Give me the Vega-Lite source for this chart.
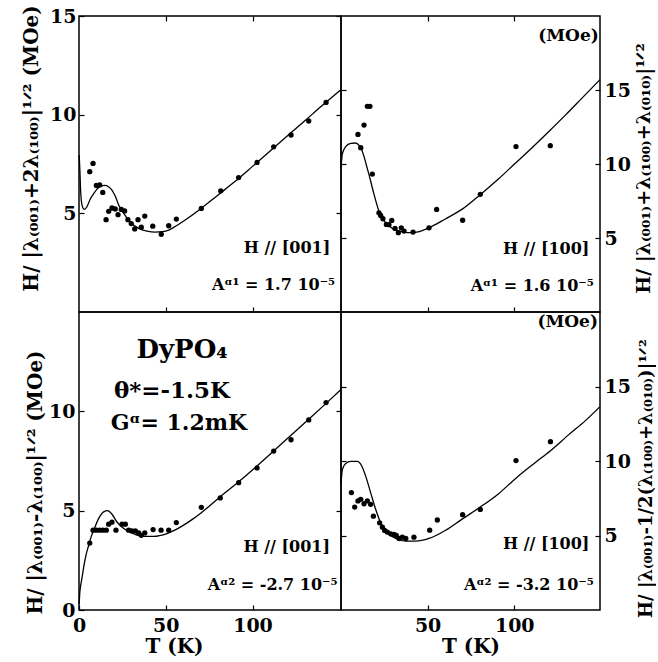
{
  "$schema": "https://vega.github.io/schema/vega-lite/v6.json",
  "background": "white",
  "padding": {"left": 20, "top": 3, "right": 0, "bottom": 0},
  "columns": 2,
  "spacing": 0,
  "bounds": "flush",
  "align": "each",
  "config": {
    "font": "DejaVu Serif",
    "view": {"stroke": "black", "strokeWidth": 1.5},
    "axis": {"grid": false, "domain": false, "tickSize": -5, "tickColor": "black", "tickWidth": 1.2, "labelFont": "DejaVu Serif", "labelFontWeight": "bold", "labelFontSize": 19, "labelColor": "black", "labelPadding": 8, "labelFlush": false, "labelOverlap": false, "titleFont": "DejaVu Serif", "titleFontWeight": "bold", "titleFontSize": 20, "titleColor": "black"},
    "axisBottom": {"labelPadding": 10},
    "axisRight": {"labelPadding": 9},
    "text": {"font": "DejaVu Serif", "fontWeight": "bold", "color": "black"},
    "line": {"color": "black", "strokeWidth": 1.3, "interpolate": "monotone"},
    "circle": {"color": "black", "opacity": 1, "size": 28}
  },
  "datasets": {
    "tl_curve": [{"T":0.1,"H":7.95},{"T":0.5,"H":7.2},{"T":0.9,"H":6.2},{"T":1.4,"H":5.6},{"T":2.2,"H":5.28},{"T":3.1,"H":5.2},{"T":4.5,"H":5.32},{"T":6.5,"H":5.73},{"T":8.5,"H":6.0},{"T":10.4,"H":6.23},{"T":12.5,"H":6.38},{"T":15.0,"H":6.42},{"T":17.0,"H":6.35},{"T":19.0,"H":6.18},{"T":21.0,"H":5.85},{"T":23.0,"H":5.4},{"T":25.8,"H":5.0},{"T":29.6,"H":4.55},{"T":34.4,"H":4.24},{"T":39.2,"H":4.1},{"T":44.0,"H":4.05},{"T":48.0,"H":4.07},{"T":51.7,"H":4.15},{"T":54.6,"H":4.29},{"T":61.0,"H":4.65},{"T":70.0,"H":5.22},{"T":80.0,"H":5.92},{"T":90.0,"H":6.62},{"T":100.0,"H":7.38},{"T":110.0,"H":8.15},{"T":120.0,"H":8.92},{"T":130.0,"H":9.68},{"T":140.0,"H":10.45},{"T":151.0,"H":11.27}],
    "tl_pts": [{"T":6.2,"H":7.11},{"T":8.1,"H":7.53},{"T":10.0,"H":6.41},{"T":11.9,"H":6.44},{"T":13.7,"H":6.06},{"T":15.6,"H":4.68},{"T":17.1,"H":5.1},{"T":19.0,"H":5.27},{"T":20.9,"H":5.22},{"T":22.5,"H":4.93},{"T":24.4,"H":5.2},{"T":26.3,"H":5.12},{"T":28.2,"H":4.68},{"T":30.1,"H":4.48},{"T":32.1,"H":4.21},{"T":34.0,"H":4.68},{"T":35.9,"H":4.3},{"T":37.9,"H":4.86},{"T":42.5,"H":4.35},{"T":47.4,"H":3.94},{"T":51.7,"H":4.37},{"T":56.1,"H":4.71},{"T":70.5,"H":5.25},{"T":81.7,"H":6.14},{"T":92.0,"H":6.81},{"T":102.6,"H":7.58},{"T":112.2,"H":8.37},{"T":122.2,"H":8.97},{"T":132.4,"H":9.68},{"T":142.4,"H":10.62}],
    "tr_curve": [{"T":0,"H":9.72},{"T":0.8,"H":10.7},{"T":2.7,"H":11.17},{"T":5.6,"H":11.4},{"T":8.5,"H":11.42},{"T":10.8,"H":11.2},{"T":12.0,"H":10.95},{"T":13.3,"H":10.5},{"T":14.7,"H":9.9},{"T":16.2,"H":9.27},{"T":19.1,"H":7.93},{"T":21.9,"H":6.81},{"T":25.8,"H":6.03},{"T":29.6,"H":5.65},{"T":35.4,"H":5.42},{"T":41.2,"H":5.36},{"T":46.9,"H":5.5},{"T":52.7,"H":5.8},{"T":60.0,"H":6.27},{"T":70.0,"H":6.95},{"T":80.4,"H":7.93},{"T":91.0,"H":9.0},{"T":100.6,"H":10.05},{"T":110.3,"H":11.1},{"T":120.0,"H":12.2},{"T":129.5,"H":13.3},{"T":139.1,"H":14.45},{"T":149.5,"H":15.7}],
    "tr_pts": [{"T":9.8,"H":12.0},{"T":11.4,"H":11.1},{"T":13.3,"H":12.63},{"T":15.2,"H":13.9},{"T":16.7,"H":13.9},{"T":18.1,"H":9.32},{"T":21.9,"H":6.7},{"T":22.9,"H":6.52},{"T":24.2,"H":6.3},{"T":26.2,"H":5.92},{"T":27.7,"H":5.9},{"T":29.3,"H":6.19},{"T":31.2,"H":5.65},{"T":33.1,"H":5.36},{"T":34.8,"H":5.69},{"T":36.4,"H":5.47},{"T":41.6,"H":5.4},{"T":50.8,"H":5.69},{"T":55.2,"H":6.93},{"T":70.2,"H":6.2},{"T":80.4,"H":7.95},{"T":101.0,"H":11.18},{"T":120.8,"H":11.24}],
    "bl_curve": [{"T":0.1,"H":0.3},{"T":0.4,"H":0.8},{"T":1.0,"H":1.25},{"T":1.7,"H":1.6},{"T":2.7,"H":2.16},{"T":4.0,"H":2.75},{"T":5.6,"H":3.26},{"T":7.0,"H":3.68},{"T":8.5,"H":4.02},{"T":11.3,"H":4.6},{"T":14.2,"H":4.94},{"T":16.5,"H":5.0},{"T":19.0,"H":4.82},{"T":21.9,"H":4.43},{"T":25.8,"H":4.1},{"T":30.5,"H":3.88},{"T":36.3,"H":3.71},{"T":43.0,"H":3.71},{"T":50.7,"H":3.85},{"T":55.5,"H":4.03},{"T":60.3,"H":4.27},{"T":65.1,"H":4.55},{"T":70.5,"H":4.9},{"T":74.7,"H":5.2},{"T":81.4,"H":5.7},{"T":92.0,"H":6.45},{"T":102.6,"H":7.25},{"T":112.2,"H":8.0},{"T":122.2,"H":8.8},{"T":132.4,"H":9.6},{"T":142.4,"H":10.4},{"T":151.0,"H":11.1}],
    "bl_pts": [{"T":6.2,"H":3.37},{"T":8.1,"H":4.02},{"T":10.0,"H":4.02},{"T":11.9,"H":4.02},{"T":13.8,"H":4.02},{"T":15.7,"H":4.02},{"T":17.1,"H":4.32},{"T":19.0,"H":4.42},{"T":21.3,"H":4.02},{"T":24.8,"H":4.32},{"T":26.7,"H":4.32},{"T":28.6,"H":4.02},{"T":30.5,"H":3.98},{"T":32.5,"H":3.98},{"T":34.4,"H":3.88},{"T":35.9,"H":3.76},{"T":37.9,"H":3.88},{"T":42.7,"H":4.05},{"T":47.3,"H":4.02},{"T":51.7,"H":4.02},{"T":56.1,"H":4.4},{"T":70.5,"H":5.17},{"T":81.4,"H":5.64},{"T":92.0,"H":6.41},{"T":102.6,"H":7.15},{"T":112.2,"H":8.0},{"T":122.2,"H":8.57},{"T":132.4,"H":9.57},{"T":142.4,"H":10.44}],
    "br_curve": [{"T":0,"H":8.44},{"T":0.8,"H":9.45},{"T":2.7,"H":9.83},{"T":5.6,"H":9.97},{"T":9.4,"H":9.97},{"T":11.9,"H":9.68},{"T":14.2,"H":9.0},{"T":17.1,"H":7.88},{"T":20.0,"H":6.76},{"T":22.9,"H":5.85},{"T":26.7,"H":5.18},{"T":31.6,"H":4.8},{"T":37.4,"H":4.62},{"T":43.1,"H":4.62},{"T":50.8,"H":4.8},{"T":60.4,"H":5.35},{"T":69.9,"H":6.1},{"T":80.4,"H":6.91},{"T":91.0,"H":7.81},{"T":101.0,"H":8.85},{"T":112.2,"H":9.9},{"T":120.9,"H":10.69},{"T":131.5,"H":11.77},{"T":141.1,"H":12.71},{"T":149.5,"H":13.65}],
    "br_pts": [{"T":6.0,"H":7.88},{"T":7.9,"H":6.91},{"T":9.8,"H":7.32},{"T":11.4,"H":7.43},{"T":13.3,"H":7.13},{"T":15.2,"H":7.32},{"T":17.1,"H":7.09},{"T":18.7,"H":6.3},{"T":22.3,"H":5.85},{"T":23.9,"H":5.56},{"T":25.2,"H":5.34},{"T":26.7,"H":5.23},{"T":28.7,"H":5.11},{"T":30.6,"H":5.07},{"T":31.9,"H":5.0},{"T":33.5,"H":4.8},{"T":35.4,"H":4.89},{"T":37.4,"H":4.8},{"T":42.1,"H":4.89},{"T":51.2,"H":5.36},{"T":55.6,"H":6.04},{"T":70.2,"H":6.4},{"T":80.4,"H":6.75},{"T":101.0,"H":10.03},{"T":120.9,"H":11.3}],
    "one": [{"k": 1}]
  },
  "concat": [
    {
      "width": 262, "height": 296,
      "resolve": {"scale": {"x": "independent", "y": "independent"}, "axis": {"x": "independent", "y": "independent"}},
      "layer": [
        {"data": {"name": "tl_curve"}, "mark": "line", "encoding": {
          "x": {"field": "T", "type": "quantitative", "scale": {"domain": [0, 151], "nice": false}, "axis": {"orient": "bottom", "values": [50, 100], "labels": false, "title": null}},
          "y": {"field": "H", "type": "quantitative", "scale": {"domain": [0, 15], "nice": false}, "axis": {"orient": "left", "values": [5, 10, 15], "title": "H/ |λ₍₀₀₁₎+2λ₍₁₀₀₎|¹ᐟ² (MOe)", "titleX": -48, "titleY": 132, "titleAngle": 270, "titleAlign": "center", "titleBaseline": "middle"}}}},
        {"data": {"name": "tl_pts"}, "mark": "circle", "encoding": {
          "x": {"field": "T", "type": "quantitative", "scale": {"domain": [0, 151], "nice": false}, "axis": {"orient": "top", "values": [50, 100], "labels": false, "title": null}},
          "y": {"field": "H", "type": "quantitative", "scale": {"domain": [0, 15], "nice": false}, "axis": {"orient": "right", "values": [5, 10, 15], "labels": false, "title": null}}}},
        {"data": {"name": "one"}, "mark": {"type": "text", "align": "right", "baseline": "middle", "fontSize": 16}, "encoding": {
          "x": {"datum": 144.8, "type": "quantitative", "scale": {"domain": [0, 151], "nice": false}, "axis": null},
          "y": {"datum": 3.23, "type": "quantitative", "scale": {"domain": [0, 15], "nice": false}, "axis": null},
          "text": {"value": "H // [001]"}}},
        {"data": {"name": "one"}, "mark": {"type": "text", "align": "right", "baseline": "middle", "fontSize": 16}, "encoding": {
          "x": {"datum": 147.6, "type": "quantitative", "scale": {"domain": [0, 151], "nice": false}, "axis": null},
          "y": {"datum": 1.35, "type": "quantitative", "scale": {"domain": [0, 15], "nice": false}, "axis": null},
          "text": {"value": "Aᵅ¹ = 1.7  10⁻⁵"}}}
      ]
    },
    {
      "width": 259, "height": 296,
      "resolve": {"scale": {"x": "independent", "y": "independent"}, "axis": {"x": "independent", "y": "independent"}},
      "layer": [
        {"data": {"name": "tr_curve"}, "mark": "line", "encoding": {
          "x": {"field": "T", "type": "quantitative", "scale": {"domain": [0, 149.5], "nice": false}, "axis": {"orient": "bottom", "values": [50, 100], "labels": false, "title": null}},
          "y": {"field": "H", "type": "quantitative", "scale": {"domain": [0, 20], "nice": false}, "axis": {"orient": "right", "values": [5, 10, 15], "title": "H/ |λ₍₀₀₁₎+λ₍₁₀₀₎+λ₍₀₁₀₎|¹ᐟ²", "titleFontSize": 19, "titleX": 43, "titleY": 152, "titleAngle": 270, "titleAlign": "center", "titleBaseline": "middle"}}}},
        {"data": {"name": "tr_pts"}, "mark": "circle", "encoding": {
          "x": {"field": "T", "type": "quantitative", "scale": {"domain": [0, 149.5], "nice": false}, "axis": {"orient": "top", "values": [50, 100], "labels": false, "title": null}},
          "y": {"field": "H", "type": "quantitative", "scale": {"domain": [0, 20], "nice": false}, "axis": {"orient": "left", "values": [5, 10, 15], "labels": false, "title": null}}}},
        {"data": {"name": "one"}, "mark": {"type": "text", "align": "right", "baseline": "middle", "fontSize": 17}, "encoding": {
          "x": {"datum": 148.8, "type": "quantitative", "scale": {"domain": [0, 149.5], "nice": false}, "axis": null},
          "y": {"datum": 18.67, "type": "quantitative", "scale": {"domain": [0, 20], "nice": false}, "axis": null},
          "text": {"value": "(MOe)"}}},
        {"data": {"name": "one"}, "mark": {"type": "text", "align": "right", "baseline": "middle", "fontSize": 16}, "encoding": {
          "x": {"datum": 143.4, "type": "quantitative", "scale": {"domain": [0, 149.5], "nice": false}, "axis": null},
          "y": {"datum": 4.26, "type": "quantitative", "scale": {"domain": [0, 20], "nice": false}, "axis": null},
          "text": {"value": "H // [100]"}}},
        {"data": {"name": "one"}, "mark": {"type": "text", "align": "right", "baseline": "middle", "fontSize": 16}, "encoding": {
          "x": {"datum": 145.9, "type": "quantitative", "scale": {"domain": [0, 149.5], "nice": false}, "axis": null},
          "y": {"datum": 1.78, "type": "quantitative", "scale": {"domain": [0, 20], "nice": false}, "axis": null},
          "text": {"value": "Aᵅ¹ = 1.6  10⁻⁵"}}}
      ]
    },
    {
      "width": 262, "height": 298,
      "resolve": {"scale": {"x": "independent", "y": "independent"}, "axis": {"x": "independent", "y": "independent"}},
      "layer": [
        {"data": {"name": "bl_curve"}, "mark": "line", "encoding": {
          "x": {"field": "T", "type": "quantitative", "scale": {"domain": [0, 151], "nice": false}, "axis": {"orient": "bottom", "values": [0, 50, 100], "labelPadding": 11, "title": "T (K)", "titleX": 95, "titleY": 36, "titleAlign": "center", "titleBaseline": "middle"}},
          "y": {"field": "H", "type": "quantitative", "scale": {"domain": [0, 15], "nice": false}, "axis": {"orient": "left", "values": [0, 5, 10], "labelPadding": 9, "title": "H/ |λ₍₀₀₁₎-λ₍₁₀₀₎|¹ᐟ² (MOe)", "titleX": -44, "titleY": 170, "titleAngle": 270, "titleAlign": "center", "titleBaseline": "middle"}}}},
        {"data": {"name": "bl_pts"}, "mark": "circle", "encoding": {
          "x": {"field": "T", "type": "quantitative", "scale": {"domain": [0, 151], "nice": false}, "axis": {"orient": "top", "values": [50, 100], "labels": false, "ticks": false, "title": null}},
          "y": {"field": "H", "type": "quantitative", "scale": {"domain": [0, 15], "nice": false}, "axis": {"orient": "right", "values": [5, 10], "labels": false, "title": null}}}},
        {"data": {"name": "one"}, "mark": {"type": "text", "align": "center", "baseline": "middle", "fontSize": 26}, "encoding": {
          "x": {"datum": 59.4, "type": "quantitative", "scale": {"domain": [0, 151], "nice": false}, "axis": null},
          "y": {"datum": 13.1, "type": "quantitative", "scale": {"domain": [0, 15], "nice": false}, "axis": null},
          "text": {"value": "DyPO₄"}}},
        {"data": {"name": "one"}, "mark": {"type": "text", "align": "center", "baseline": "middle", "fontSize": 23}, "encoding": {
          "x": {"datum": 53.6, "type": "quantitative", "scale": {"domain": [0, 151], "nice": false}, "axis": null},
          "y": {"datum": 11.0, "type": "quantitative", "scale": {"domain": [0, 15], "nice": false}, "axis": null},
          "text": {"value": "θ*=-1.5K"}}},
        {"data": {"name": "one"}, "mark": {"type": "text", "align": "center", "baseline": "middle", "fontSize": 22}, "encoding": {
          "x": {"datum": 57.6, "type": "quantitative", "scale": {"domain": [0, 151], "nice": false}, "axis": null},
          "y": {"datum": 9.42, "type": "quantitative", "scale": {"domain": [0, 15], "nice": false}, "axis": null},
          "text": {"value": "Gᵅ= 1.2mK"}}},
        {"data": {"name": "one"}, "mark": {"type": "text", "align": "right", "baseline": "middle", "fontSize": 16}, "encoding": {
          "x": {"datum": 144.7, "type": "quantitative", "scale": {"domain": [0, 151], "nice": false}, "axis": null},
          "y": {"datum": 3.17, "type": "quantitative", "scale": {"domain": [0, 15], "nice": false}, "axis": null},
          "text": {"value": "H // [001]"}}},
        {"data": {"name": "one"}, "mark": {"type": "text", "align": "right", "baseline": "middle", "fontSize": 16}, "encoding": {
          "x": {"datum": 149, "type": "quantitative", "scale": {"domain": [0, 151], "nice": false}, "axis": null},
          "y": {"datum": 1.24, "type": "quantitative", "scale": {"domain": [0, 15], "nice": false}, "axis": null},
          "text": {"value": "Aᵅ² = -2.7  10⁻⁵"}}}
      ]
    },
    {
      "width": 259, "height": 298,
      "resolve": {"scale": {"x": "independent", "y": "independent"}, "axis": {"x": "independent", "y": "independent"}},
      "layer": [
        {"data": {"name": "br_curve"}, "mark": "line", "encoding": {
          "x": {"field": "T", "type": "quantitative", "scale": {"domain": [0, 149.5], "nice": false}, "axis": {"orient": "bottom", "values": [50, 100], "labelPadding": 11, "title": "T (K)", "titleY": 36, "titleBaseline": "middle"}},
          "y": {"field": "H", "type": "quantitative", "scale": {"domain": [0, 20], "nice": false}, "axis": {"orient": "right", "values": [5, 10, 15], "title": "H/ |λ₍₀₀₁₎-1/2(λ₍₁₀₀₎+λ₍₀₁₀₎)|¹ᐟ²", "titleFontSize": 18, "titleX": 46, "titleY": 166, "titleAngle": 270, "titleAlign": "center", "titleBaseline": "middle"}}}},
        {"data": {"name": "br_pts"}, "mark": "circle", "encoding": {
          "x": {"field": "T", "type": "quantitative", "scale": {"domain": [0, 149.5], "nice": false}, "axis": {"orient": "top", "values": [50, 100], "labels": false, "ticks": false, "title": null}},
          "y": {"field": "H", "type": "quantitative", "scale": {"domain": [0, 20], "nice": false}, "axis": {"orient": "left", "values": [5, 10, 15], "labels": false, "title": null}}}},
        {"data": {"name": "one"}, "mark": {"type": "text", "align": "right", "baseline": "middle", "fontSize": 17}, "encoding": {
          "x": {"datum": 148.3, "type": "quantitative", "scale": {"domain": [0, 149.5], "nice": false}, "axis": null},
          "y": {"datum": 19.34, "type": "quantitative", "scale": {"domain": [0, 20], "nice": false}, "axis": null},
          "text": {"value": "(MOe)"}}},
        {"data": {"name": "one"}, "mark": {"type": "text", "align": "right", "baseline": "middle", "fontSize": 16}, "encoding": {
          "x": {"datum": 143.4, "type": "quantitative", "scale": {"domain": [0, 149.5], "nice": false}, "axis": null},
          "y": {"datum": 4.4, "type": "quantitative", "scale": {"domain": [0, 20], "nice": false}, "axis": null},
          "text": {"value": "H // [100]"}}},
        {"data": {"name": "one"}, "mark": {"type": "text", "align": "right", "baseline": "middle", "fontSize": 16}, "encoding": {
          "x": {"datum": 145.9, "type": "quantitative", "scale": {"domain": [0, 149.5], "nice": false}, "axis": null},
          "y": {"datum": 1.7, "type": "quantitative", "scale": {"domain": [0, 20], "nice": false}, "axis": null},
          "text": {"value": "Aᵅ² = -3.2  10⁻⁵"}}}
      ]
    }
  ]
}
